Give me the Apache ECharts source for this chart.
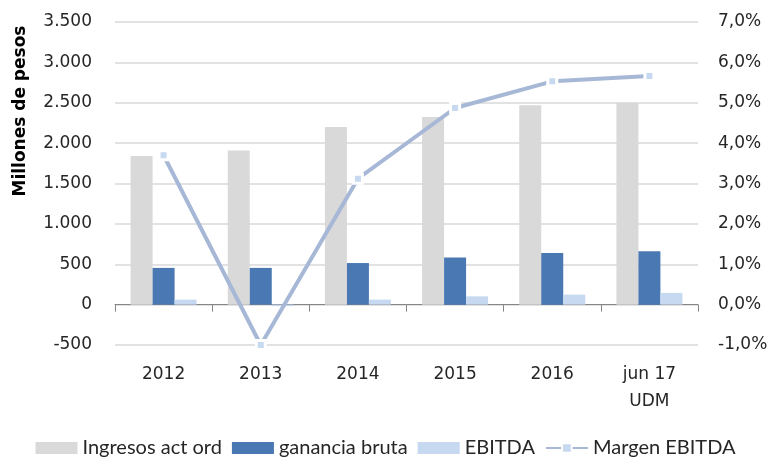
<!DOCTYPE html>
<html>
<head>
<meta charset="utf-8">
<script src="https://cdn.jsdelivr.net/npm/echarts@6/dist/echarts.min.js"></script>
<style>
  html, body { margin: 0; padding: 0; background: #fff; }
  #chart { width: 771px; height: 460px; }
</style>
</head>
<body>
<div id="chart"></div>
<script>
const years = ["2012", "2013", "2014", "2015", "2016", "jun 17\nUDM"];
const ingresos = [1840, 1910, 2200, 2325, 2470, 2500];
const ganancia = [455, 455, 515, 585, 640, 660];
const ebitda = [62, -19, 62, 103, 124, 145];
const margen = [3.7, -1.0, 3.12, 4.87, 5.53, 5.66];

const myChart = echarts.init(document.getElementById("chart"));

const fmtThousands = (v) => String(v).replace(/\B(?=(\d{3})+(?!\d))/g, ".");

const option = {
  animation: false,
  textStyle: { fontFamily: "DejaVu Sans" },
  grid: { left: 115, right: 73, top: 22, bottom: 115 },
  graphic: [
    {
      type: "text",
      x: 21,
      y: 111,
      rotation: Math.PI / 2,
      style: {
        text: "Millones de pesos",
        font: "bold 17px 'DejaVu Sans'",
        fill: "#000",
        textAlign: "center",
        textVerticalAlign: "middle"
      }
    }
  ],
  legend: {
    top: 433,
    left: "center",
    itemWidth: 42,
    itemHeight: 12,
    itemGap: 10,
    textStyle: { fontFamily: "Lato", fontSize: 20, color: "#262626" },
    data: [
      { name: "Ingresos act ord", icon: "rect" },
      { name: "ganancia bruta", icon: "rect" },
      { name: "EBITDA", icon: "rect" },
      { name: "Margen EBITDA" }
    ]
  },
  xAxis: [
    {
      type: "category",
      data: years,
      axisLine: { onZero: true, lineStyle: { color: "#868686", width: 1 } },
      axisTick: { show: true, length: 7, lineStyle: { color: "#868686" } },
      axisLabel: { show: false }
    },
    {
      type: "category",
      data: years,
      position: "bottom",
      axisLine: { show: false, onZero: false },
      axisTick: { show: false },
      axisLabel: {
        margin: 16,
        fontSize: 17,
        color: "#262626",
        lineHeight: 27
      }
    }
  ],
  yAxis: [
    {
      type: "value",
      min: -500,
      max: 3500,
      interval: 500,
      axisLine: { show: false },
      axisTick: { show: false },
      axisLabel: {
        margin: 23,
        fontSize: 17,
        color: "#262626",
        formatter: fmtThousands
      },
      splitLine: { lineStyle: { color: "#d9d9d9", width: 1.5 } }
    },
    {
      type: "value",
      min: -1,
      max: 7,
      interval: 1,
      axisLine: { show: false },
      axisTick: { show: false },
      splitLine: { show: false },
      axisLabel: {
        margin: 20,
        fontSize: 17,
        color: "#262626",
        formatter: (v) => v.toFixed(1).replace(".", ",") + "%"
      }
    }
  ],
  series: [
    {
      name: "Ingresos act ord",
      type: "bar",
      data: ingresos,
      barWidth: 22,
      barGap: "0%",
      itemStyle: { color: "#d9d9d9" }
    },
    {
      name: "ganancia bruta",
      type: "bar",
      data: ganancia,
      barWidth: 22,
      barGap: "0%",
      itemStyle: { color: "#4a78b2" }
    },
    {
      name: "EBITDA",
      type: "bar",
      data: ebitda,
      barWidth: 22,
      barGap: "0%",
      itemStyle: { color: "#c6d9f1" }
    },
    {
      name: "Margen EBITDA",
      type: "line",
      yAxisIndex: 1,
      data: margen,
      symbol: "rect",
      symbolSize: 9,
      lineStyle: { color: "#a7b8d6", width: 4 },
      itemStyle: { color: "#c6d9f1", borderColor: "#fff", borderWidth: 3 },
      z: 5
    }
  ]
};

myChart.setOption(option);
</script>
</body>
</html>
